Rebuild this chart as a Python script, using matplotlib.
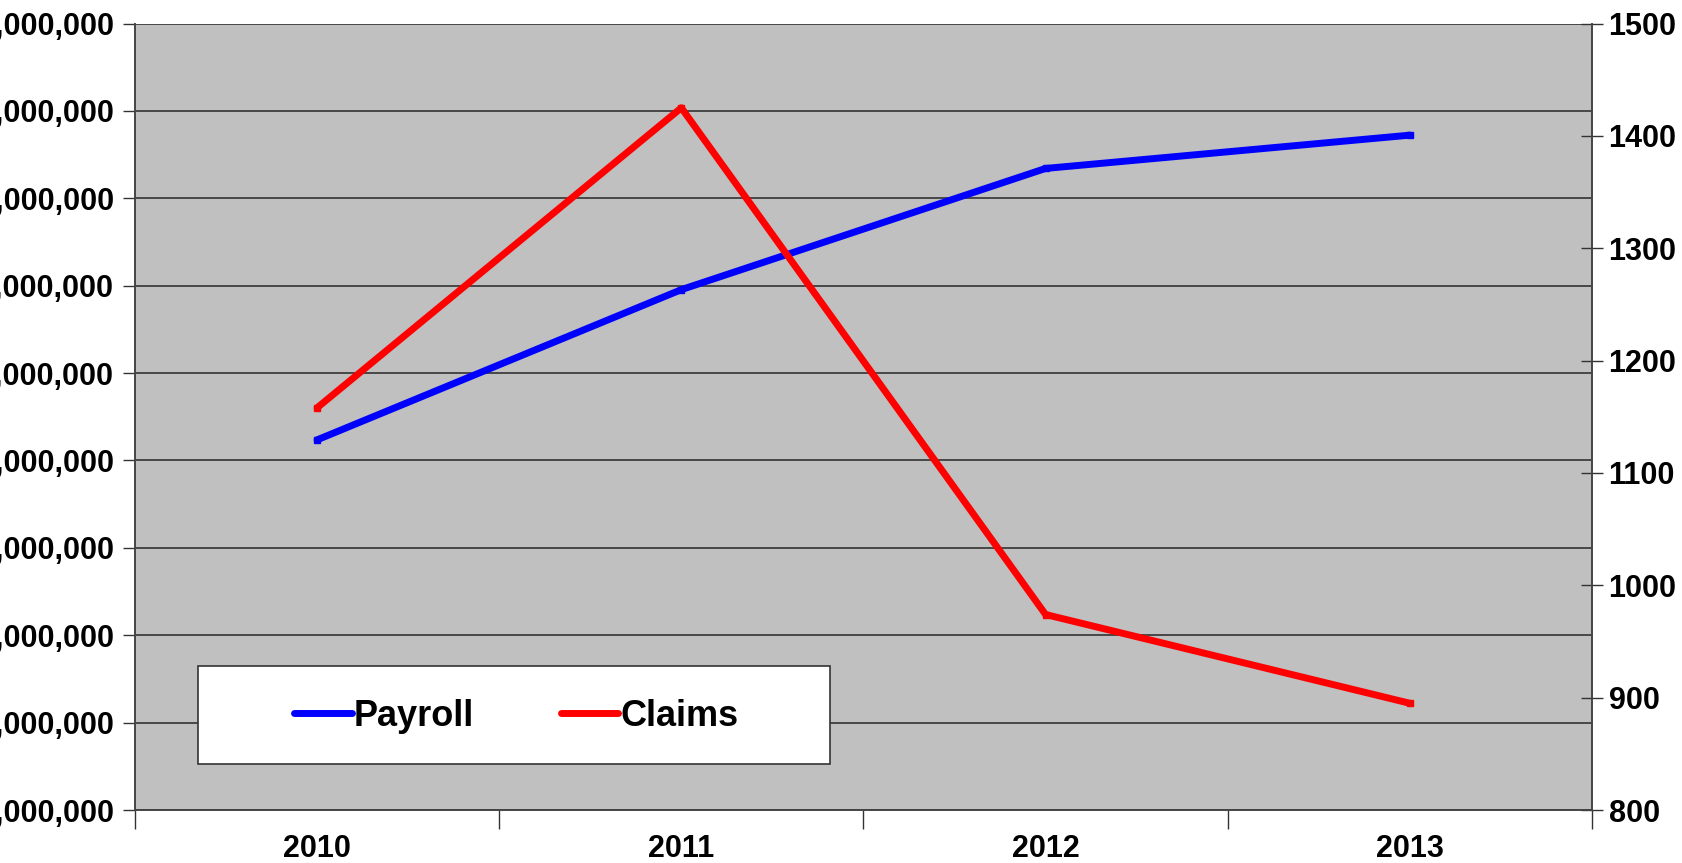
import matplotlib.pyplot as plt
import matplotlib.patches as mpatches
import numpy as np
from matplotlib.ticker import FuncFormatter, FixedLocator

years = ['2010', '2011', '2012', '2013']
payroll = [5236000, 6955000, 8342000, 8723000]
claims = [1158, 1425, 974, 895]

plt.rcParams['font.family'] = 'Liberation Sans'
plt.rcParams['font.weight'] = 'bold'

fig = plt.figure(figsize=(16.83, 8.63), dpi=100)
ax = fig.add_axes([0.0802, 0.0614, 0.8657, 0.9113])
ax.set_facecolor('#C0C0C0')

x = np.arange(len(years))
l1, = ax.plot(x, payroll, color='#0000FF', linewidth=5, marker='s', markersize=5,
              solid_capstyle='round', label='Payroll', zorder=3)
ax.set_xlim(-0.5, 3.5)
ax.set_ylim(1000000, 10000000)
ax.set_yticks(np.arange(1000000, 10000001, 1000000))
# the left labels run off the edge of the picture, as in the original
ax.yaxis.set_major_formatter(FuncFormatter(lambda v, p: f'{int(v):,}'))
ax.grid(axis='y', color='#333333', linewidth=1.2)
ax.set_axisbelow(True)

ax.set_xticks(x)
ax.set_xticklabels(years)
ax.xaxis.set_minor_locator(FixedLocator(np.arange(-0.5, 3.6, 1)))
ax.tick_params(axis='x', which='major', length=0, pad=17, labelsize=22)
ax.tick_params(axis='x', which='minor', length=14, width=1, color='#333333')
ax.tick_params(axis='y', length=9, width=1, color='#333333', labelsize=22, pad=6)

ax2 = ax.twinx()
l2, = ax2.plot(x, claims, color='#FF0000', linewidth=5, marker='s', markersize=5,
               solid_capstyle='round', label='Claims', zorder=3)
ax2.set_ylim(800, 1500)
ax2.set_yticks(np.arange(800, 1501, 100))
ax2.tick_params(axis='y', direction='inout', length=16, width=1, color='#333333',
                labelsize=22, pad=4)

for a in (ax, ax2):
    for s in a.spines.values():
        s.set_color('#444444')
        s.set_linewidth(1.2)
    a.spines['top'].set_visible(False)

# legend box and legend entries
box = mpatches.Rectangle((0.0435, 0.0587), 0.4333, 0.1241, transform=ax2.transAxes,
                         facecolor='white', edgecolor='#333333', linewidth=1.2, zorder=4)
ax2.add_patch(box)
leg = ax2.legend(handles=[l1, l2], ncol=2, loc='center',
                 bbox_to_anchor=(0.2616, 0.1195), frameon=False,
                 prop={'size': 26, 'weight': 'bold'}, handlelength=1.6,
                 handletextpad=0.05, columnspacing=2.4)
for h in leg.legend_handles:
    h.set_marker('')
leg.set_zorder(5)

fig.savefig('out.png', dpi=100)
